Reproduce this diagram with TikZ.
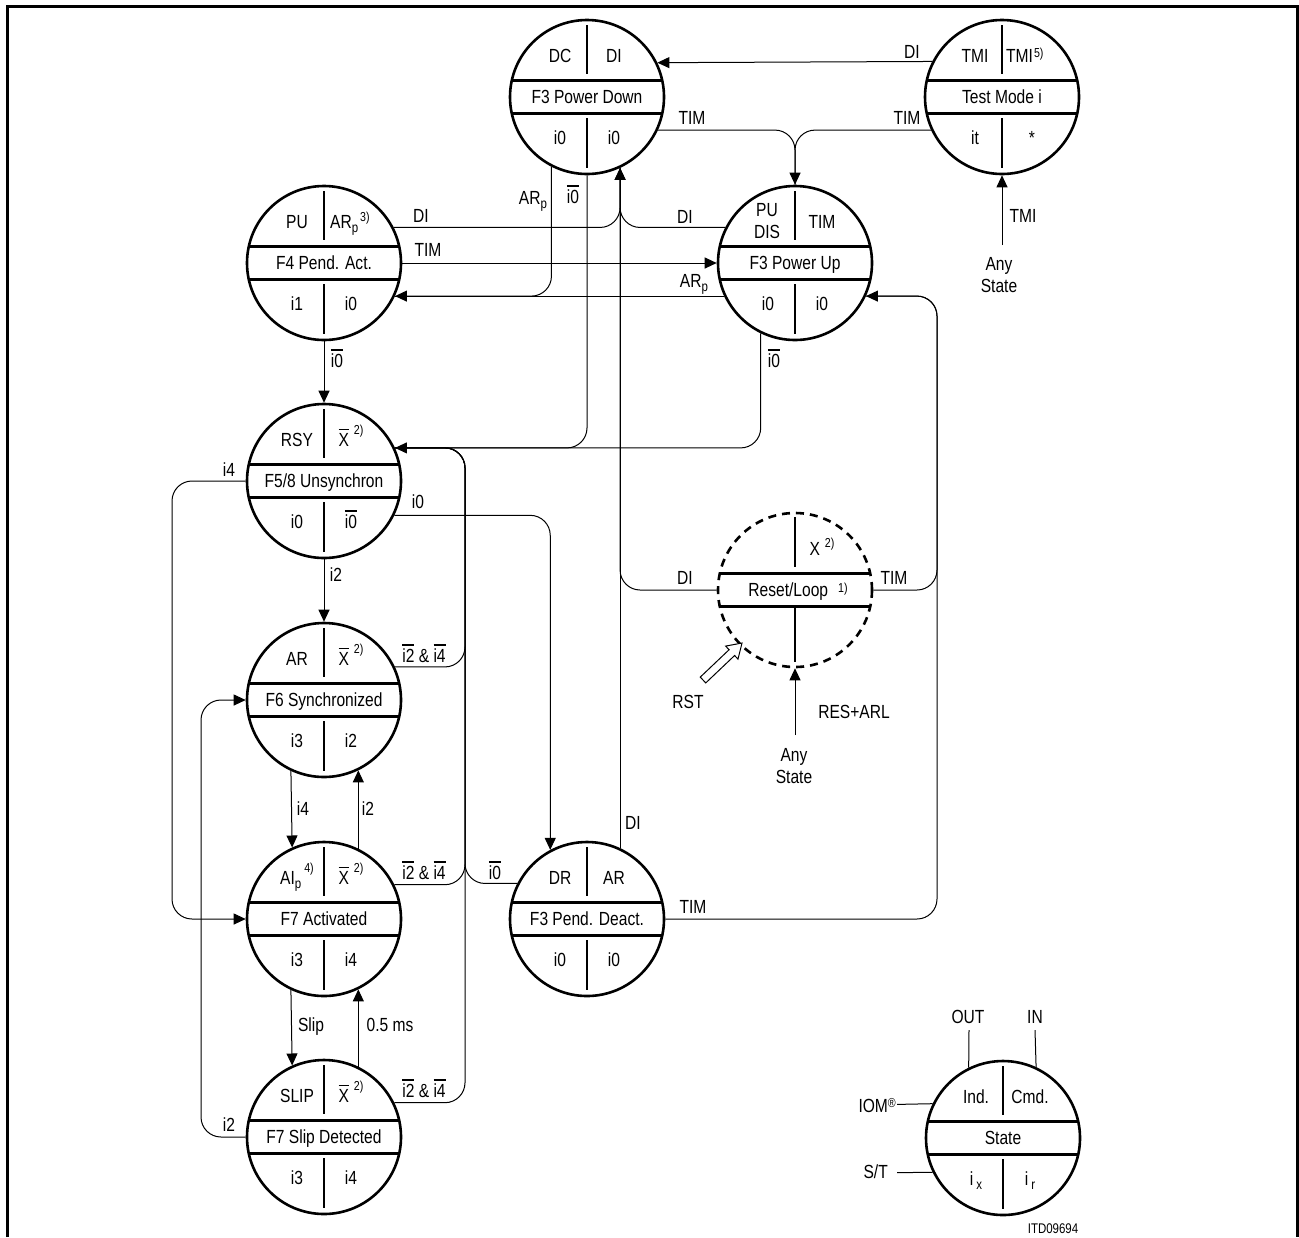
\documentclass[tikz,border=0pt]{standalone}
\usepackage{fontspec}
\setmainfont{Liberation Sans}[FakeStretch=0.82]
\usetikzlibrary{calc,arrows.meta}

\newcommand{\ob}[1]{\begingroup\setbox0=\hbox{#1}\rlap{\raise\dimexpr\ht0+3.5bp\relax\hbox{\vrule width \wd0 height 1.1bp depth 0pt}}\box0\endgroup}
\newcommand{\supx}[2][12bp]{\raisebox{#1}{\fontsize{13bp}{13bp}\selectfont #2}}
\newcommand{\sbs}[1]{\raisebox{-4bp}{\fontsize{14bp}{14bp}\selectfont #1}}

\tikzset{
  stc/.style={circle, draw, line width=2.6bp, minimum size=154bp, inner sep=0pt, fill=white},
  rlc/.style={stc, dash pattern=on 8bp off 6bp},
  thk/.style={line width=2.6bp},
  con/.style={line width=1bp, rounded corners=20bp},
  arr/.style={-{Triangle[length=12bp,width=11bp]}},
  lbl/.style={inner sep=0pt, text height=13.6bp, text depth=0pt},
  two/.style={inner sep=0pt, align=center, anchor=north},
  frm/.style={line width=3bp}
}

\newcommand{\circinner}[1]{%
  \draw[thk] ($(#1)+(-75.2,-16.5)$) -- ($(#1)+(75.2,-16.5)$);
  \draw[thk] ($(#1)+(-75.2,16.5)$) -- ($(#1)+(75.2,16.5)$);
  \draw[thk] ($(#1)+(0,-72)$) -- ($(#1)+(0,-23)$);
  \draw[thk] ($(#1)+(0,21)$) -- ($(#1)+(0,71)$);
}
\newcommand{\fillstate}[6]{%
  \circinner{#1}
  \node[lbl] (#1-tl) at ($(#1)+(-27,-41)$) {#2};
  \node[lbl] (#1-tr) at ($(#1)+(27,-41)$) {#3};
  \node[lbl] (#1-m) at (#1) {#4};
  \node[lbl] (#1-bl) at ($(#1)+(-27,41)$) {#5};
  \node[lbl] (#1-br) at ($(#1)+(27,41)$) {#6};
}

\begin{document}
\begin{tikzpicture}[x=1bp, y=-1bp, font=\fontsize{19bp}{22bp}\selectfont]
\useasboundingbox (0,0) rectangle (1299,1237);
\draw[frm] (7.5,1237) -- (7.5,6) -- (1297.5,6) -- (1297.5,1237);

% state circles
\node[stc] (PD)  at (587,97)   {};
\node[stc] (TM)  at (1002,97)  {};
\node[stc] (PA)  at (324,263)  {};
\node[stc] (PU)  at (795,263)  {};
\node[stc] (RSY) at (324,481)  {};
\node[stc] (F6)  at (324,700)  {};
\node[stc] (F7)  at (324,919)  {};
\node[stc] (SL)  at (324,1137) {};
\node[stc] (PDe) at (587,919)  {};
\node[rlc] (RL)  at (795,590)  {};
\node[stc] (LG)  at (1003,1138) {};

\fillstate{PD}{DC}{DI}{F3 Power Down}{i0}{i0}
\fillstate{TM}{TMI}{}{Test Mode i}{it}{}
\node[lbl,anchor=west] (TM-tr2) at ($(TM)+(4,-41)$) {TMI\hspace{1bp}\supx[5bp]{5)}};
\node[lbl] (TM-br2) at ($(TM)+(30,41)$) {*};
\fillstate{PA}{PU}{}{F4 Pend. Act.}{i1}{i0}
\node[lbl,anchor=west] (PA-tr2) at ($(PA)+(6,-41)$) {AR\sbs{p}\hspace{2bp}\supx[7bp]{3)}};
\fillstate{PU}{}{TIM}{F3 Power Up}{i0}{i0}
\node[two] (PU-tl2) at ($(PU)+(-28,-60)$) {PU\\DIS};
\fillstate{RSY}{RSY}{\ob{X}\hspace{5bp}\supx{2)}}{F5/8 Unsynchron}{i0}{\ob{i0}}
\fillstate{F6}{AR}{\ob{X}\hspace{5bp}\supx{2)}}{F6 Synchronized}{i3}{i2}
\fillstate{F7}{AI\sbs{p}\hspace{3bp}\supx{4)}}{\ob{X}\hspace{5bp}\supx{2)}}{F7 Activated}{i3}{i4}
\fillstate{SL}{SLIP}{\ob{X}\hspace{5bp}\supx{2)}}{F7 Slip Detected}{i3}{i4}
\fillstate{PDe}{DR}{AR}{F3 Pend. Deact.}{i0}{i0}
\fillstate{LG}{Ind.}{Cmd.}{State}{i\hspace{3bp}\sbs{x}}{i\hspace{3bp}\sbs{r}}

% reset / loop
\draw[thk] ($(RL)+(-75.2,-16.5)$) -- ($(RL)+(75.2,-16.5)$);
\draw[thk] ($(RL)+(-75.2,16.5)$) -- ($(RL)+(75.2,16.5)$);
\draw[thk] ($(RL)+(0,-73)$) -- ($(RL)+(0,-23)$);
\draw[thk] ($(RL)+(0,17)$) -- ($(RL)+(0,72)$);
\node[lbl] (RL-tr) at ($(RL)+(27,-41)$) {X\hspace{5bp}\supx[8bp]{2)}};
\node[lbl] (RL-m) at ($(RL)+(3,0)$) {Reset/Loop\hspace{10bp}\supx[4bp]{1)}};

% helper coordinates
\coordinate (J1x) at (465,0);
\coordinate (J1) at (RSY.25.4 -| J1x);
\coordinate (L1x) at (172,0);
\coordinate (L1) at (F7.west -| L1x);
\coordinate (L2x) at (201,0);
\coordinate (L2) at (F6.west -| L2x);
\coordinate (R1x) at (937,0);
\coordinate (R1) at (PU.-25.4 -| R1x);
\coordinate (tmA) at (1002,245);
\coordinate (rlA) at (795,735);
\coordinate (oOUT) at (969,1030);
\coordinate (oIN) at (1035,1030);
\coordinate (oIOM) at (897,1104.4);
\coordinate (oST) at (897,1172.6);

% connectors
\draw[con,arr] (TM.153.8) -- (PD.26.2);
\draw[con,arr] (PD.-25.4) -| (PU.north);
\draw[con] (TM.205.4) -| (PU.north);
\draw[con,arr] (PA.27) -| (PD.-65.4);
\draw[con] (PU.153) -| (PD.-65.4);
\draw[con] (RL.west) -| (PD.-65.4);
\draw[con,arr] (PDe.65.4) -- (PD.-65.4);
\draw[con,arr] (PA.east) -- (PU.west);
\draw[con,arr] (PD.243.8) |- (PA.-25.4);
\draw[con] (PU.205.4) -- (PA.-25.4);
\draw[con,arr] (PD.south) |- (RSY.25.4);
\draw[con] (PU.244.6) |- (RSY.25.4);
\draw[con] (F6.25.4) -| (J1) -- (RSY.25.4);
\draw[con] (F7.26.2) -| (J1) -- (RSY.25.4);
\draw[con] (SL.26.2) -| (J1) -- (RSY.25.4);
\draw[con] (PDe.153.8) -| (J1) -- (RSY.25.4);
\draw[con,arr] (PA.south) -- (RSY.north);
\draw[con,arr] (RSY.-26.2) -| (PDe.118.7);
\draw[con,arr] (RSY.south) -- (F6.north);
\draw[con,arr] (RSY.west) -| (L1) -- (F7.west);
\draw[con,arr] (SL.west) -| (L2) -- (F6.west);
\draw[con,arr] (F6.245.4) -- (F7.114.6);
\draw[con,arr] (F7.64.6) -- (F6.-64.6);
\draw[con,arr] (F7.245.4) -- (SL.114.6);
\draw[con,arr] (SL.64.6) -- (F7.-64.6);
\draw[con,arr] (PDe.east) -| (R1) -- (PU.-25.4);
\draw[con] (RL.east) -| (R1) -- (PU.-25.4);
\draw[con,arr] (tmA) -- (TM.south);
\draw[con,arr] (rlA) -- (RL.south);
\draw[line width=1bp, fill=white] (700.25,677.1) -- (729.1,649.7) -- (725.6,646.1) -- (742,643) -- (738.0,659.1) -- (734.6,655.5) -- (705.75,682.9) -- cycle;
\draw[con] (oOUT) -- (LG.116.2);
\draw[con] (oIN) -- (LG.65.4);
\draw[con] (oIOM) -- (LG.154.6);
\draw[con] (oST) -- (LG.206.2);

% connector labels
\node[lbl] (lDI1) at (912,52) {DI};
\node[lbl] (lTIM1) at (692,118) {TIM};
\node[lbl] (lTIM2) at (907,118) {TIM};
\node[lbl] (lDI2) at (421,216) {DI};
\node[lbl] (lTIM3) at (428,250) {TIM};
\node[lbl] (lARp1) at (533,198) {AR\sbs{p}};
\node[lbl] (li0a) at (573,197) {\ob{i0}};
\node[lbl] (lDI3) at (685,217) {DI};
\node[lbl] (lARp2) at (694,281) {AR\sbs{p}};
\node[lbl] (li0b) at (337,361) {\ob{i0}};
\node[lbl] (li0c) at (774,361) {\ob{i0}};
\node[lbl] (li4a) at (229,470) {i4};
\node[lbl] (li0d) at (418,502) {i0};
\node[lbl] (li2a) at (336,575) {i2};
\node[lbl] (lx1) at (424,656) {\ob{i2} \& \ob{i4}};
\node[lbl] (li4b) at (303,809) {i4};
\node[lbl] (li2b) at (368,809) {i2};
\node[lbl] (lx2) at (424,873) {\ob{i2} \& \ob{i4}};
\node[lbl] (li0e) at (495,873) {\ob{i0}};
\node[lbl] (lslip) at (311,1025) {Slip};
\node[lbl] (l05) at (390,1025) {0.5 ms};
\node[lbl] (lx3) at (424,1091) {\ob{i2} \& \ob{i4}};
\node[lbl] (li2c) at (229,1125) {i2};
\node[lbl] (lDI4) at (633,823) {DI};
\node[lbl] (lTIM4) at (693,907) {TIM};
\node[lbl] (lDI5) at (685,578) {DI};
\node[lbl] (lTIM5) at (894,578) {TIM};
\node[lbl] (lRST) at (688,702) {RST};
\node[lbl] (lRES) at (854,712) {RES+ARL};
\node[two] (lany1) at (794,748) {Any\\State};
\node[lbl] (lTMI) at (1023,216) {TMI};
\node[two] (lany2) at (999,257) {Any\\State};
\node[lbl] (lOUT) at (968,1017) {OUT};
\node[lbl] (lIN) at (1035,1017) {IN};
\node[lbl,anchor=east] (lIOM) at (896,1106) {IOM\supx[5bp]{®}};
\node[lbl,anchor=east] (lST) at (888,1172) {S/T};
\node[lbl,font=\fontsize{14bp}{16bp}\selectfont,text height=10bp] (lITD) at (1053,1228) {ITD09694};
\end{tikzpicture}
\end{document}
